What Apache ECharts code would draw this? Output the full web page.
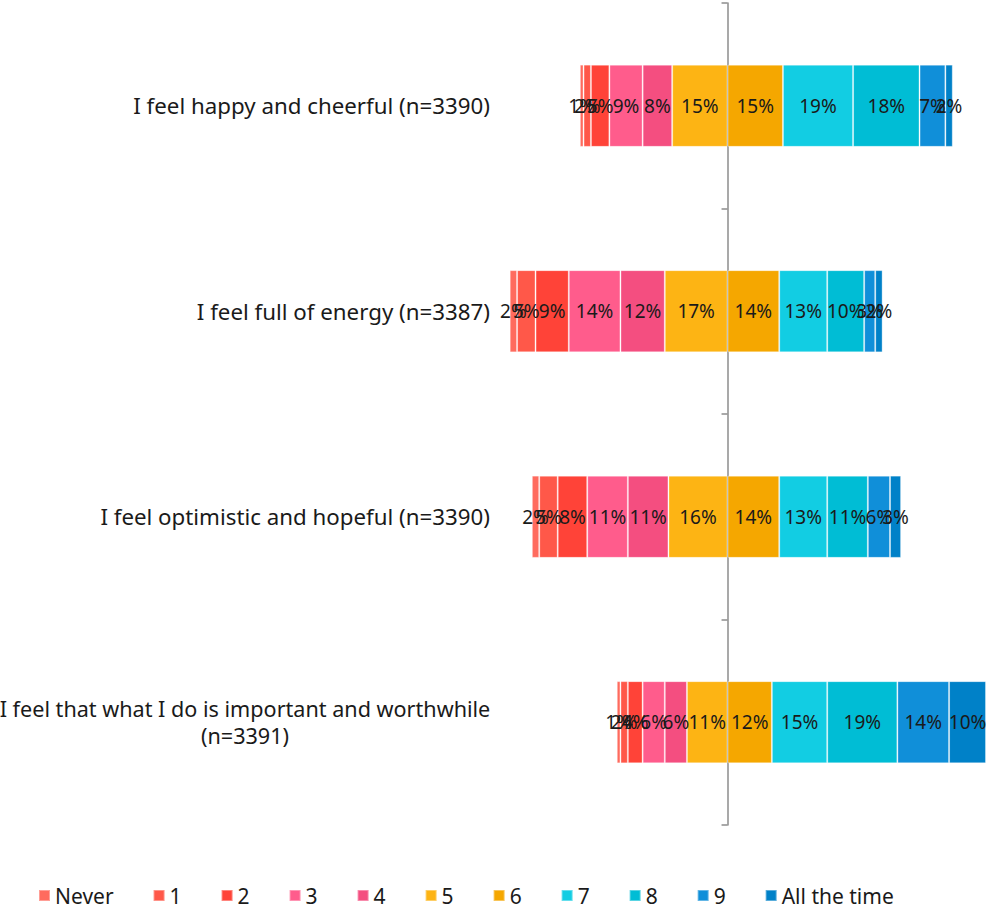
<!DOCTYPE html>
<html>
<head>
<meta charset="utf-8">
<script src="https://cdn.jsdelivr.net/npm/echarts@6/dist/echarts.min.js"></script>
<style>
  html, body { margin: 0; padding: 0; background: #ffffff; }
  #chart { width: 989px; height: 908px; }
</style>
</head>
<body>
<div id="chart"></div>
<script>
// Wellbeing statements, top to bottom
const statements = [
  'I feel happy and cheerful (n=3390)',
  'I feel full of energy (n=3387)',
  'I feel optimistic and hopeful (n=3390)',
  'I feel that what I do is important and worthwhile\n(n=3391)'
];

// Answer scale, from "Never" to "All the time"
const levels = ['Never', '1', '2', '3', '4', '5', '6', '7', '8', '9', 'All the time'];

const levelColors = [
  '#FF6B5E', '#FF5849', '#FF4338', '#FF5C8C', '#F44E80',
  '#FDB414', '#F5A700', '#12CDE3', '#00BDD5', '#108FD9', '#0081C8'
];

// Share of respondents (%) giving each answer, per statement
const pctNever = [1, 2, 2, 1];
const pct1     = [2, 5, 5, 2];
const pct2     = [5, 9, 8, 4];
const pct3     = [9, 14, 11, 6];
const pct4     = [8, 12, 11, 6];
const pct5     = [15, 17, 16, 11];
const pct6     = [15, 14, 14, 12];
const pct7     = [19, 13, 13, 15];
const pct8     = [18, 10, 11, 19];
const pct9     = [7, 3, 6, 14];
const pctAll   = [2, 2, 3, 10];

const valuesByLevel = [pctNever, pct1, pct2, pct3, pct4, pct5, pct6, pct7, pct8, pct9, pctAll];

const FONT = '"Noto Sans", sans-serif';

// Answers up to 5 extend to the left of the centre line, 6 and above to the right.
// Stacking order goes outward from the centre on each side.
const leftOrder = [5, 4, 3, 2, 1, 0];
const rightOrder = [6, 7, 8, 9, 10];

function makeSeries(idx, sign) {
  return {
    name: levels[idx],
    type: 'bar',
    stack: 'total',
    barWidth: '40%',
    clip: false,
    yAxisIndex: 0,
    itemStyle: {
      color: levelColors[idx],
      borderColor: 'rgba(255,255,255,0.35)',
      borderWidth: 1
    },
    label: {
      show: true,
      position: 'inside',
      color: '#1a1a1a',
      fontSize: 19,
      fontFamily: FONT,
      formatter: p => Math.abs(p.value) + '%'
    },
    emphasis: { disabled: true },
    data: valuesByLevel[idx].map(v => sign * v)
  };
}

const series = [
  ...leftOrder.map(i => makeSeries(i, -1)),
  ...rightOrder.map(i => makeSeries(i, 1))
];

const chart = echarts.init(document.getElementById('chart'), null, { renderer: 'svg' });

chart.setOption({
  animation: false,
  backgroundColor: '#ffffff',
  color: levelColors,
  grid: {
    left: 506, right: 3, top: 3, bottom: 83,
    containLabel: false,
    outerBoundsMode: 'none'
  },
  legend: {
    data: levels,
    left: 38,
    top: 885,
    padding: 0,
    itemWidth: 11,
    itemHeight: 11,
    itemGap: 39,
    icon: 'rect',
    textStyle: { fontSize: 21, fontFamily: FONT, color: '#1a1a1a' }
  },
  xAxis: {
    type: 'value',
    min: -60,
    max: 70,
    show: false,
    splitLine: { show: false }
  },
  yAxis: [
    {
      type: 'category',
      data: statements,
      inverse: true,
      position: 'left',
      axisLine: { show: false, onZero: false },
      axisTick: { show: false },
      splitLine: { show: false },
      axisLabel: {
        margin: 16,
        color: '#1a1a1a',
        fontSize: 22.3,
        fontFamily: FONT,
        formatter: function (v) {
          if (v.indexOf('\n') >= 0) {
            return v.split('\n').map(s => '{c|' + s + '}').join('\n');
          }
          return v;
        },
        rich: {
          c: { width: 490, align: 'center', fontSize: 21.6, fontFamily: FONT, color: '#1a1a1a', lineHeight: 27 }
        }
      }
    },
    {
      type: 'category',
      data: statements,
      inverse: true,
      position: 'left',
      axisLine: { show: true, onZero: true, lineStyle: { color: '#8c8c8c', width: 1.5 } },
      axisTick: { show: true, length: 6, lineStyle: { color: '#8c8c8c', width: 1.5 } },
      axisLabel: { show: false },
      splitLine: { show: false }
    }
  ],
  series: series
});
</script>
</body>
</html>
